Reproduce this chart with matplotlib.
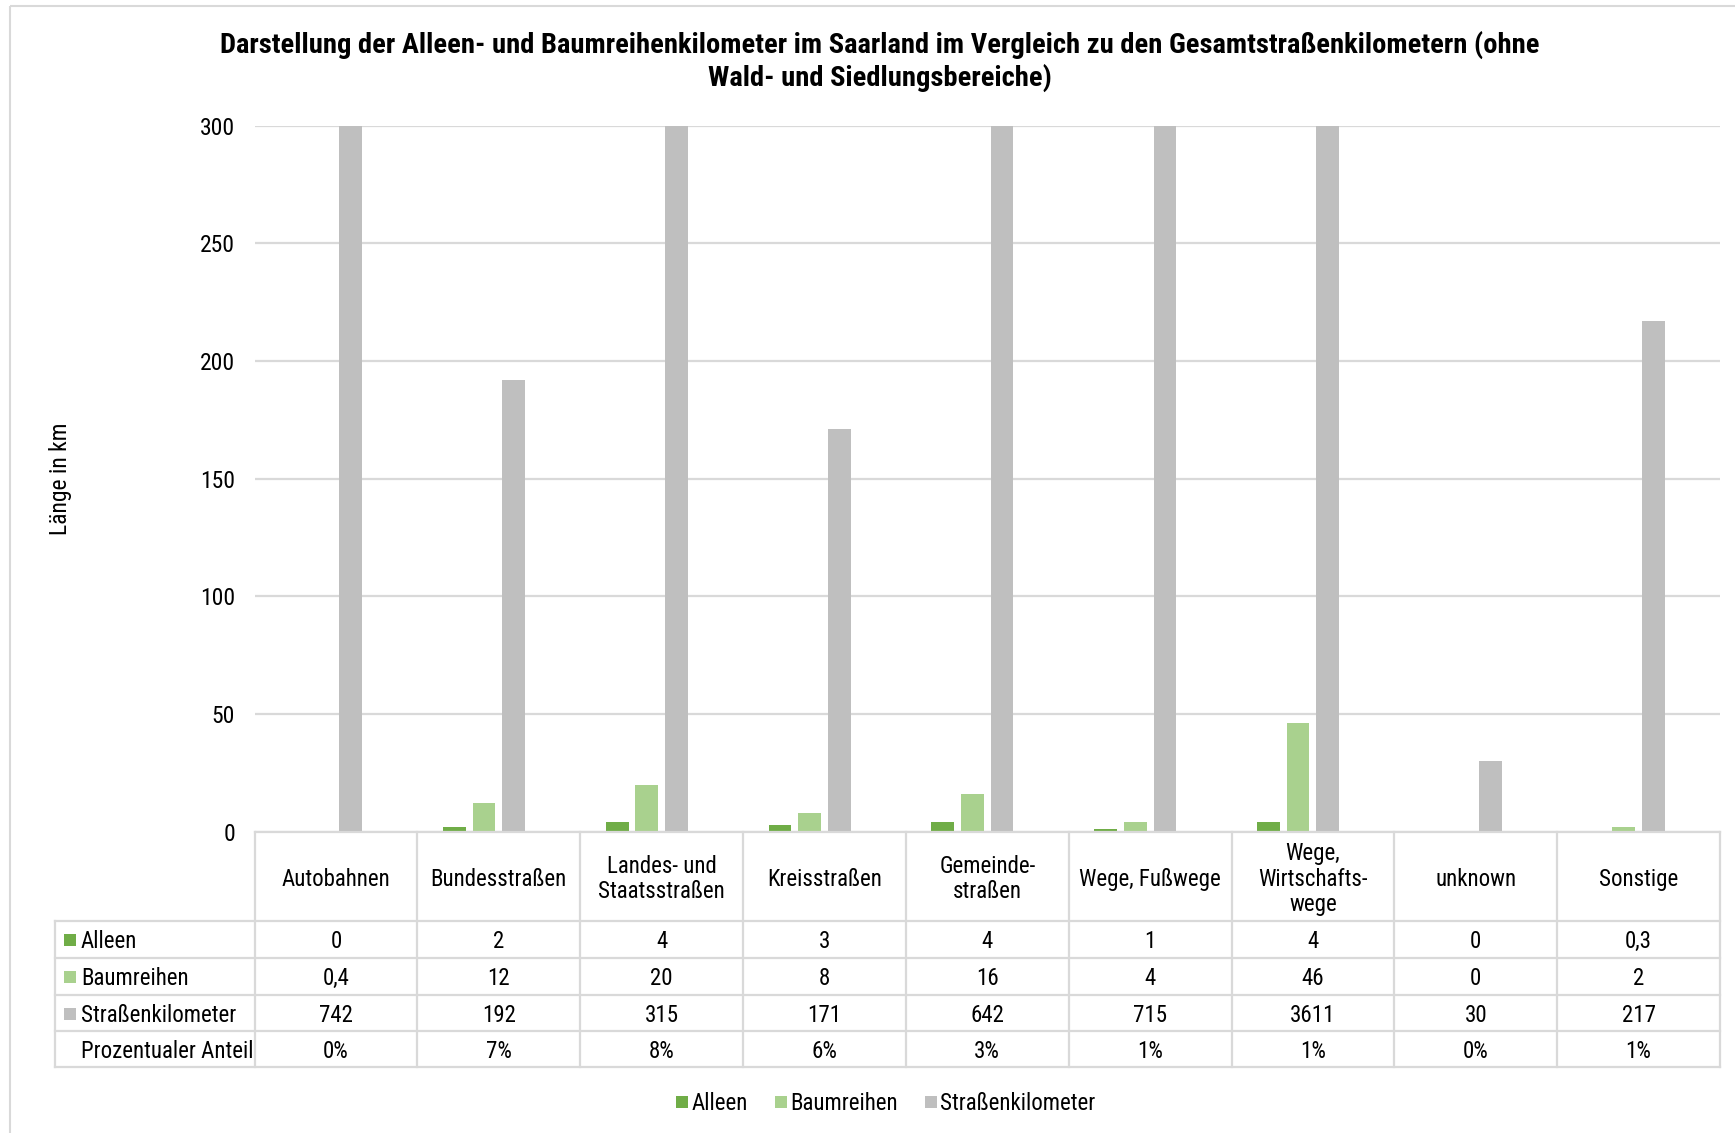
import matplotlib.pyplot as plt
import numpy as np
from matplotlib.patches import Rectangle
from matplotlib.lines import Line2D

plt.rcParams['font.family'] = ['Roboto Condensed', 'PT Sans Narrow', 'Liberation Sans', 'DejaVu Sans']

# data
categories = ["Autobahnen", "Bundesstraßen", "Landes- und\nStaatsstraßen", "Kreisstraßen",
              "Gemeinde-\nstraßen", "Wege, Fußwege", "Wege,\nWirtschafts-\nwege", "unknown", "Sonstige"]
alleen = [0, 2, 4, 3, 4, 1, 4, 0, 0.3]
baumreihen = [0.4, 12, 20, 8, 16, 4, 46, 0, 2]
strassenkm = [742, 192, 315, 171, 642, 715, 3611, 30, 217]
anteil = [0.00, 0.07, 0.08, 0.06, 0.03, 0.01, 0.01, 0.00, 0.01]
series_names = ["Alleen", "Baumreihen", "Straßenkilometer", "Prozentualer Anteil"]
colors = ["#70AD47", "#A9D18E", "#BFBFBF", "none"]

W, H = 1735, 1133
fig = plt.figure(figsize=(W / 100, H / 100), dpi=100)

# plot area in pixel units
px_left, px_right, px_top, px_bottom = 254.5, 1720, 125.7, 831.7
ax = fig.add_axes([px_left / W, 1 - px_bottom / H, (px_right - px_left) / W, (px_bottom - px_top) / H])

x = np.arange(len(categories))
offsets = [-0.273, -0.091, 0.091, 0.273]
width = 0.14
for vals, off, col in zip([alleen, baumreihen, strassenkm, anteil], offsets, colors):
    ax.bar(x + off, vals, width=width, color=col, linewidth=0, zorder=3)

ax.set_xlim(-0.5, len(categories) - 0.5)
ax.set_ylim(0, 300)
ax.set_yticks(np.arange(0, 301, 50))
ax.tick_params(axis='y', length=0, pad=14, labelsize=17)
ax.set_xticks([])
ax.grid(axis='y', color='#D9D9D9', linewidth=1.6, zorder=0)
for s in ax.spines.values():
    s.set_visible(False)
ax.set_ylabel("Länge in km", fontsize=17)
ax.yaxis.set_label_coords((72 - px_left) / (px_right - px_left), 0.5)

fig.suptitle("Darstellung der Alleen- und Baumreihenkilometer im Saarland im Vergleich zu den Gesamtstraßenkilometern (ohne\n"
             "Wald- und Siedlungsbereiche)", x=880 / W, y=1 - 31 / H, fontsize=20.5, fontweight='bold',
             va='top', linespacing=1.2)

# overlay for data table, pixel coords
ov = fig.add_axes([0, 0, 1, 1], zorder=5)
ov.set_xlim(0, W)
ov.set_ylim(H, 0)
ov.axis('off')
ov.patch.set_alpha(0)

# outer chart frame
ov.add_patch(Rectangle((10, 6), W, H, fill=False, edgecolor='#D9D9D9', linewidth=1.5))

lc = '#D9D9D9'
lw = 1.6
col_w = (px_right - px_left) / len(categories)
row_y = [831.7, 920.6, 958.2, 994.7, 1031.3, 1066.7]
tab_left = 55
# horizontal lines
ov.plot([px_left, px_right], [row_y[0], row_y[0]], color=lc, lw=lw)
for yy in row_y[1:]:
    ov.plot([tab_left, px_right], [yy, yy], color=lc, lw=lw)
# vertical lines
for i in range(len(categories) + 1):
    xx = px_left + i * col_w
    ov.plot([xx, xx], [row_y[0], row_y[-1]], color=lc, lw=lw)
ov.plot([tab_left, tab_left], [row_y[1], row_y[-1]], color=lc, lw=lw)

fs = 16.5
for i, cat in enumerate(categories):
    cx = px_left + (i + 0.5) * col_w
    ov.text(cx, (row_y[0] + row_y[1]) / 2 + 3, cat, ha='center', va='center', fontsize=fs, linespacing=1.12)


def fmt(v):
    return f"{v:g}".replace('.', ',')


rows = [[fmt(v) for v in alleen], [fmt(v) for v in baumreihen], [fmt(v) for v in strassenkm],
        [f"{round(v * 100):d}%" for v in anteil]]
for r, (name, vals, col) in enumerate(zip(series_names, rows, colors)):
    cy = (row_y[r + 1] + row_y[r + 2]) / 2 + 2
    if col != "none":
        ov.add_patch(Rectangle((64, cy - 7), 12, 12, color=col, linewidth=0))
    ov.text(81, cy, name, ha='left', va='center', fontsize=fs)
    for i, v in enumerate(vals):
        cx = px_left + (i + 0.5) * col_w
        ov.text(cx, cy, v, ha='center', va='center', fontsize=fs)

# legend
handles = [Line2D([], [], marker='s', linestyle='none', markersize=8.5, markerfacecolor=c, markeredgewidth=0)
           for c in colors[:3]]
fig.legend(handles, series_names[:3], loc='center', bbox_to_anchor=(885 / W, 1 - 1104 / H), ncol=3,
           frameon=False, fontsize=fs, handletextpad=0.05, columnspacing=1.1, handlelength=0.7)

fig.savefig("out.png", dpi=100, facecolor='white')
